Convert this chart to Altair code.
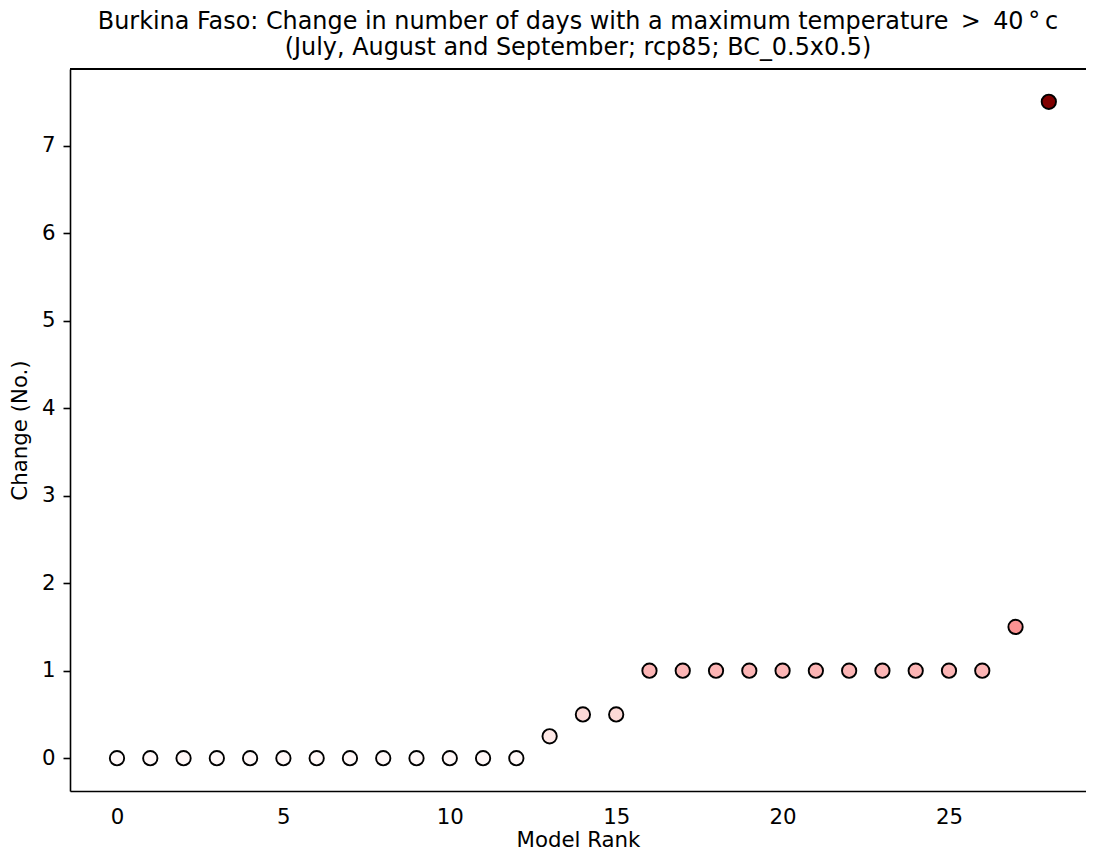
import altair as alt
import pandas as pd

# Data
model_rank = [0, 1, 2, 3, 4, 5, 6, 7, 8, 9, 10, 11, 12, 13, 14,
              15, 16, 17, 18, 19, 20, 21, 22, 23, 24, 25, 26, 27, 28]
change = [0, 0, 0, 0, 0, 0, 0, 0, 0, 0, 0, 0, 0, 0.25, 0.5,
          0.5, 1, 1, 1, 1, 1, 1, 1, 1, 1, 1, 1, 1.5, 7.5]
x_ticks = [0, 5, 10, 15, 20, 25]
y_ticks = [0, 1, 2, 3, 4, 5, 6, 7]

color_domain = [0, 0.25, 0.5, 1, 1.5, 7.5]
color_range = ["#fff8f8", "#fee8e6", "#fcd9d6", "#fcb5b5", "#fb9292", "#800000"]

df = pd.DataFrame({"rank": model_rank, "change": change})

FONT = "DejaVu Sans"
FS = 21.3
TFS = 23.9
W, H = 1016, 722

points = alt.Chart(df).mark_point(
    filled=True, shape="circle", size=205, stroke="black", strokeWidth=1.9, opacity=1
).encode(
    x=alt.X("rank:Q",
            scale=alt.Scale(domain=[-1.412, 29.117], nice=False, zero=False),
            axis=alt.Axis(values=x_ticks, title="Model Rank", ticks=False,
                          labelPadding=15, grid=False, domainColor="black",
                          domainWidth=1.6, labelColor="black", labelFontSize=FS,
                          labelFont=FONT, titleFont=FONT, titleFontSize=FS,
                          titleFontWeight="normal", titleColor="black",
                          titlePadding=2, labelFlush=False)),
    y=alt.Y("change:Q",
            scale=alt.Scale(domain=[-0.375, 7.875], nice=False, zero=False),
            axis=alt.Axis(values=y_ticks, title="Change (No.)", tickSize=7,
                          tickWidth=1.6, tickColor="black", labelPadding=8,
                          grid=False, domainColor="black", domainWidth=1.6,
                          labelColor="black", labelFontSize=FS, labelFont=FONT,
                          titleFont=FONT, titleFontSize=FS, titleFontWeight="normal",
                          titleColor="black", titlePadding=11, labelFlush=False)),
    fill=alt.Fill("change:Q",
                  scale=alt.Scale(domain=color_domain, range=color_range,
                                  interpolate="rgb"),
                  legend=None),
)

top_spine = alt.Chart(df).mark_rule(color="black", strokeWidth=1.6).encode(
    x=alt.value(0), x2=alt.value(W), y=alt.value(0)
)

chart = alt.layer(top_spine, points).properties(
    width=W,
    height=H,
    title=alt.TitleParams(
        text=["Burkina Faso: Change in number of days with a maximum temperature \u2009>\u2009 40\u2009°\u2009c",
              "(July, August and September; rcp85; BC_0.5x0.5)"],
        font=FONT, fontSize=TFS, fontWeight="normal", color="black",
        anchor="middle", baseline="alphabetic", offset=-11, lineHeight=26,
    ),
    autosize=alt.AutoSizeParams(type="none"),
    padding={"left": 62, "top": 61, "right": 0, "bottom": 60},
).configure_view(stroke=None).configure(background="white")

chart.save("out.html", embed_options={"renderer": "svg", "actions": False})
